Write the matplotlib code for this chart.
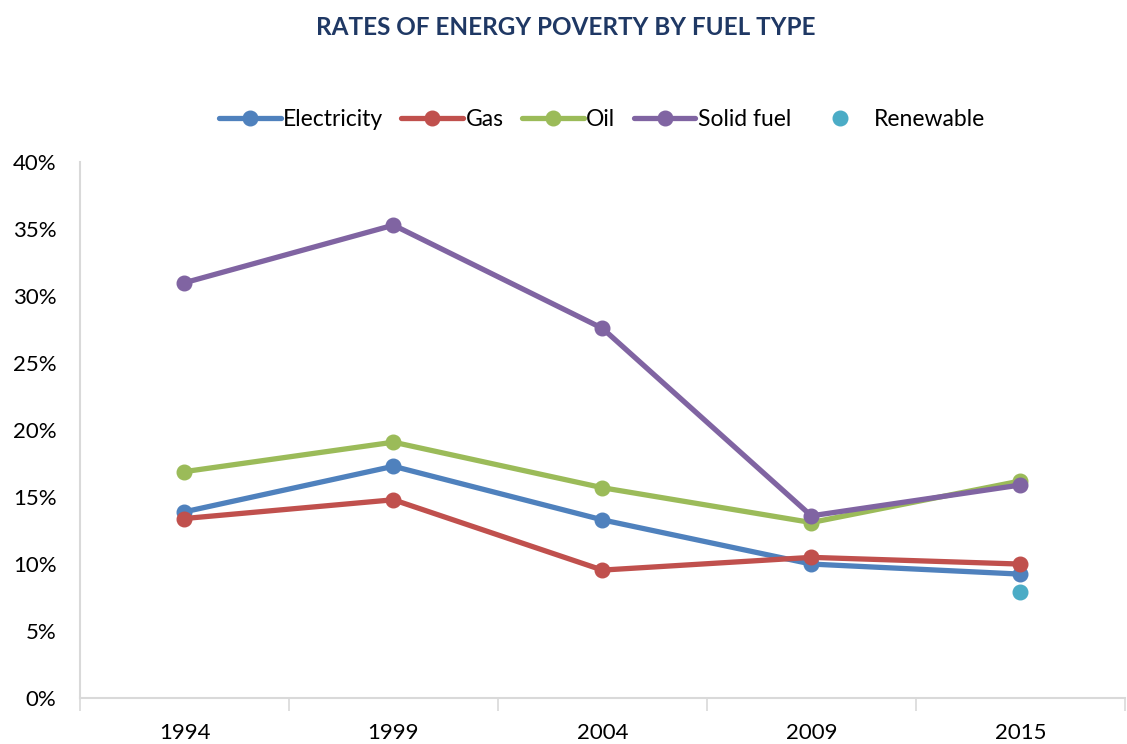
import matplotlib
matplotlib.use("Agg")
import matplotlib.pyplot as plt
from matplotlib.ticker import PercentFormatter

years = ["1994", "1999", "2004", "2009", "2015"]
electricity = [13.9, 17.3, 13.3, 10.0, 9.25]
gas = [13.4, 14.8, 9.55, 10.5, 10.0]
oil = [16.9, 19.1, 15.7, 13.1, 16.2]
solid_fuel = [31.0, 35.3, 27.6, 13.6, 15.9]
renewable = [None, None, None, None, 7.9]

series = [
    ("Electricity", electricity, "#4f81bd"),
    ("Gas", gas, "#c0504d"),
    ("Oil", oil, "#9bbb59"),
    ("Solid fuel", solid_fuel, "#8064a2"),
]

plt.rcParams['font.family'] = ['Lato', 'DejaVu Sans']

fig = plt.figure(figsize=(11.27, 7.44), dpi=100)
ax = fig.add_axes([0.071, 0.0618, 0.927, 0.7202])

x = list(range(len(years)))
for i, (name, vals, col) in enumerate(series):
    ax.plot(x, vals, color=col, lw=3.8, marker='o', ms=10.5, label=name,
            zorder=3 + i, solid_capstyle='round')

rx = [xi for xi, v in zip(x, renewable) if v is not None]
ry = [v for v in renewable if v is not None]
ax.plot(rx, ry, ls='none', marker='o', ms=10.5, color='#4bacc6', label='Renewable', zorder=8)

ax.set_xlim(-0.5, len(years) - 0.5)
ax.set_ylim(0, 40)
ax.set_yticks(range(0, 41, 5))
ax.yaxis.set_major_formatter(PercentFormatter(decimals=0))
ax.set_xticks(x)
ax.set_xticklabels(years)
ax.set_xticks([i - 0.5 for i in range(len(years) + 1)], minor=True)
ax.tick_params(axis='x', which='major', length=0, pad=18, labelsize=16)
ax.tick_params(axis='x', which='minor', length=9, color='#d9d9d9', width=1.2)
ax.tick_params(axis='y', length=0, pad=17, labelsize=16)

for s in ['top', 'right']:
    ax.spines[s].set_visible(False)
for s in ['left', 'bottom']:
    ax.spines[s].set_color('#d9d9d9')
    ax.spines[s].set_linewidth(1.5)

fig.text(0.502, 0.963, "RATES OF ENERGY POVERTY BY FUEL TYPE", ha='center', va='center',
         fontsize=17.5, fontweight='bold', color='#1f3864')

leg = fig.legend(loc='center', bbox_to_anchor=(0.534, 0.84), ncol=5, frameon=False,
                 fontsize=16.5, handlelength=2.7, columnspacing=0.8, handletextpad=0.1,
                 markerscale=1.0)

fig.savefig("out.png", dpi=100)
